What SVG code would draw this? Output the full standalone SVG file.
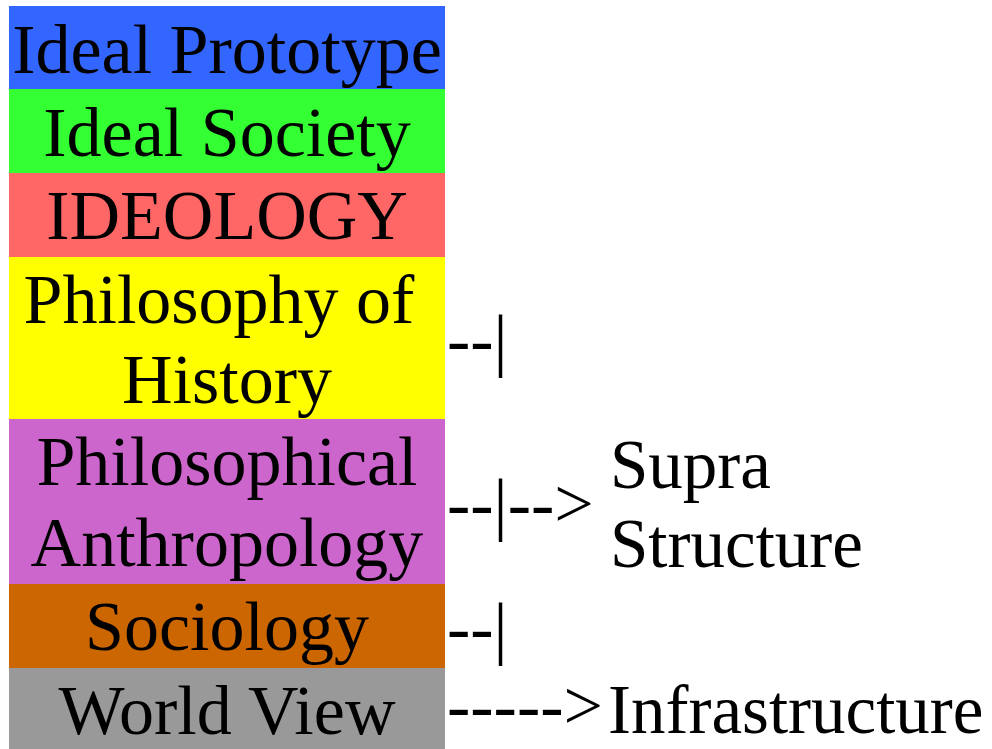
<svg xmlns="http://www.w3.org/2000/svg" width="992" height="749" viewBox="0 0 992 749">
<style>
text{font-family:"Liberation Serif","Times New Roman",serif;font-size:70px;fill:#000}
.c{text-anchor:middle}
.r{font-size:69px}
</style>
<rect width="992" height="749" fill="#fff"/>
<g id="ideal-prototype"><rect x="9" y="6" width="436" height="83" fill="#3366FF"/><text class="c" x="227" y="73">Ideal Prototype</text></g>
<g id="ideal-society"><rect x="9" y="89" width="436" height="84" fill="#33FF33"/><text class="c" x="227" y="156">Ideal Society</text></g>
<g id="ideology"><rect x="9" y="173" width="436" height="84" fill="#FF6666"/><text class="c" x="227" y="239">IDEOLOGY</text></g>
<g id="philosophy-of-history"><rect x="9" y="257" width="436" height="162" fill="#FFFF00"/><text class="c" x="219" y="323">Philosophy of</text><text class="c" x="227" y="403">History</text></g>
<g id="philosophical-anthropology"><rect x="9" y="419" width="436" height="165" fill="#CC66CC"/><text class="c" x="227" y="485">Philosophical</text><text class="c" x="227" y="566">Anthropology</text></g>
<g id="sociology"><rect x="9" y="584" width="436" height="84" fill="#CC6600"/><text class="c" x="227" y="650">Sociology</text></g>
<g id="world-view"><rect x="9" y="668" width="436" height="81" fill="#999999"/><text class="c" x="227" y="734">World View</text></g>
<g id="connectors">
<text x="447" y="363">--|</text>
<text x="447" y="527">--|--&gt;</text>
<text x="447" y="651">--|</text>
<text x="447" y="729">-----&gt;</text>
</g>
<g id="supra-structure"><text class="r" x="610" y="488">Supra</text><text class="r" x="610" y="567">Structure</text></g>
<g id="infrastructure"><text class="r" x="608" y="733">Infrastructure</text></g>
</svg>
